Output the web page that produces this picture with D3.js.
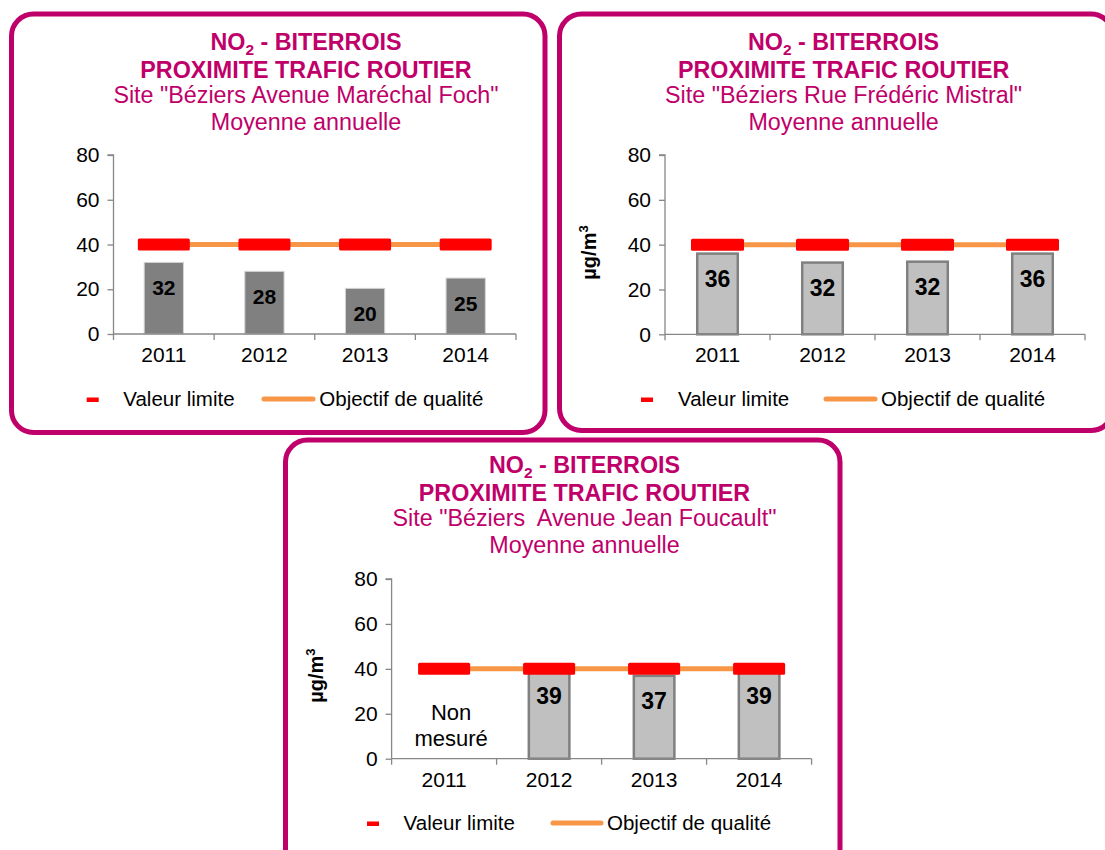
<!DOCTYPE html>
<html><head><meta charset="utf-8">
<script src="https://cdn.jsdelivr.net/npm/d3@7"></script>
<style>
body{margin:0;background:#fff}
text{font-family:"Liberation Sans",Arial,Helvetica,sans-serif}
</style>
</head><body>
<svg id="c" width="1105" height="850"></svg>
<script>
// ---- data ----
const years = ["2011", "2012", "2013", "2014"];
const fochValues = [32, 28, 20.4, 25];
const mistralValues = [36, 32, 32.4, 36];
const foucaultValues = [null, 39, 36.9, 39];
const fochLabels = ["32", "28", "20", "25"];
const mistralLabels = ["36", "32", "32", "36"];
const foucaultLabels = ["", "39", "37", "39"];
const valeurLimite = [40, 40, 40, 40];
const objectifQualite = [40, 40, 40, 40];
const yTicks = [0, 20, 40, 60, 80];
const titleNO = "NO";
const titleSub = "2";
const titleRest = " - BITERROIS";
const titleLine2 = "PROXIMITE TRAFIC ROUTIER";
const siteNames = ['Site "Béziers Avenue Maréchal Foch"', 'Site "Béziers Rue Frédéric Mistral"', 'Site "Béziers  Avenue Jean Foucault"'];
const titleLine4 = "Moyenne annuelle";
const legendNames = ["Valeur limite", "Objectif de qualité"];
const yAxisTitle = "µg/m";
const missingText = ["Non", "mesuré"];

const MAG = "#C0006A";
const svg = d3.select("#c");

const panels = [
  {values: fochValues, labels: fochLabels, site: siteNames[0],
   box: {x: 11.5, y: 14, w: 533.5, h: 418.5},
   plot: {x0: 113.5, x1: 516, y0: 334, y1: 155},
   barFrac: 0.4, redW: 52, fill: "#808080", stroke: "#d4d4d4", sw: 1, labelSize: 21,
   titleX: 306, titleY: 50, yTitle: null,
   legend: {red: 86.7, vText: 123.3, o0: 262, o1: 315, oText: 319.3, y: 406}},
  {values: mistralValues, labels: mistralLabels, site: siteNames[1],
   box: {x: 559.5, y: 14, w: 553.5, h: 416.5},
   plot: {x0: 665, x1: 1085, y0: 334.3, y1: 155},
   barFrac: 0.41, redW: 53, fill: "#C0C0C0", stroke: "#808080", sw: 2.5, labelSize: 23,
   titleX: 843.6, titleY: 50, yTitle: {x: 588.5, y: 252.5},
   legend: {red: 641, vText: 678, o0: 824, o1: 877, oText: 881, y: 406}},
  {values: foucaultValues, labels: foucaultLabels, site: siteNames[2],
   box: {x: 285.5, y: 440, w: 554.5, h: 450},
   plot: {x0: 391.6, x1: 811.6, y0: 758.7, y1: 579},
   barFrac: 0.41, redW: 52, fill: "#C0C0C0", stroke: "#808080", sw: 2.5, labelSize: 23,
   titleX: 584.5, titleY: 473.3, yTitle: {x: 316, y: 675.6},
   legend: {red: 367, vText: 403.6, o0: 551, o1: 603, oText: 607, y: 830},
   missing: true}
];

const TFS = 23.3;

panels.forEach(p => {
  const g = svg.append("g");
  // border
  g.append("rect").attr("x", p.box.x).attr("y", p.box.y).attr("width", p.box.w).attr("height", p.box.h)
    .attr("rx", 22).attr("ry", 22).attr("fill", "none").attr("stroke", MAG).attr("stroke-width", 5);

  // title
  const t = g.append("g").attr("fill", MAG).attr("text-anchor", "middle");
  const l1 = t.append("text").attr("x", p.titleX).attr("y", p.titleY).attr("font-weight", "bold").attr("font-size", TFS);
  l1.append("tspan").text(titleNO);
  l1.append("tspan").attr("font-size", 15.5).attr("dy", 5).text(titleSub);
  l1.append("tspan").attr("dy", -5).text(titleRest);
  t.append("text").attr("x", p.titleX).attr("y", p.titleY + 27.5).attr("font-weight", "bold").attr("font-size", TFS).text(titleLine2);
  t.append("text").attr("x", p.titleX).attr("y", p.titleY + 53).attr("font-size", TFS).style("white-space", "pre").text(p.site);
  t.append("text").attr("x", p.titleX).attr("y", p.titleY + 79.5).attr("font-size", TFS).text(titleLine4);

  // scales
  const x = d3.scaleBand().domain(years).range([p.plot.x0, p.plot.x1]).padding(0);
  const y = d3.scaleLinear().domain([0, 80]).range([p.plot.y0, p.plot.y1]);
  const bw = x.bandwidth();
  const barW = bw * p.barFrac;

  // bars
  const data = years.map((yr, i) => ({yr, v: p.values[i], lab: p.labels[i], vl: valeurLimite[i], oq: objectifQualite[i]}));
  g.append("g").selectAll("rect").data(data.filter(d => d.v != null)).join("rect")
    .attr("x", d => x(d.yr) + (bw - barW) / 2 + p.sw / 2)
    .attr("width", barW - p.sw)
    .attr("y", d => y(d.v))
    .attr("height", d => y(0) - y(d.v))
    .attr("fill", p.fill).attr("stroke", p.stroke).attr("stroke-width", p.sw);

  // axes
  const ya = g.append("g").attr("transform", `translate(${p.plot.x0},0)`)
    .call(d3.axisLeft(y).tickValues(yTicks).tickSize(6).tickPadding(8));
  const xa = g.append("g").attr("transform", `translate(0,${p.plot.y0})`)
    .call(d3.axisBottom(x).tickSize(0).tickPadding(13));
  // category boundary ticks
  const bounds = years.map(yr => x(yr)).concat([p.plot.x1]);
  xa.selectAll("line.bt").data(bounds).join("line").attr("class", "bt")
    .attr("x1", d => d).attr("x2", d => d).attr("y1", 0).attr("y2", 6);
  [ya, xa].forEach(a => {
    a.selectAll("path").attr("stroke", "#878787").attr("stroke-width", 1.3);
    a.selectAll("line").attr("stroke", "#878787").attr("stroke-width", 1.3);
    a.selectAll("text").attr("font-size", 21).attr("fill", "#000")
      .attr("font-family", '"Liberation Sans",Arial,sans-serif');
  });
  ya.select("path").attr("d", `M-6,${p.plot.y1}H0V${p.plot.y0}`);
  xa.select("path").attr("d", `M${p.plot.x0},0H${p.plot.x1}`);

  // objectif de qualité line
  const line = d3.line().x(d => x(d.yr) + bw / 2).y(d => y(d.oq));
  g.append("path").datum(data).attr("d", line).attr("fill", "none")
    .attr("stroke", "#F79646").attr("stroke-width", 5);

  // valeur limite dashes
  g.append("g").selectAll("rect").data(data).join("rect")
    .attr("x", d => x(d.yr) + bw / 2 - p.redW / 2).attr("width", p.redW)
    .attr("y", d => y(d.vl) - 6).attr("height", 12).attr("rx", 1.5)
    .attr("fill", "#FF0000");

  // data labels
  g.append("g").selectAll("text").data(data.filter(d => d.v != null)).join("text")
    .attr("x", d => x(d.yr) + bw / 2)
    .attr("y", d => y(d.v) + 25 + p.labelSize * 0.36)
    .attr("text-anchor", "middle").attr("font-weight", "bold").attr("font-size", p.labelSize)
    .attr("fill", "#000").text(d => d.lab);

  if (p.missing) {
    const mx = x(years[0]) + bw / 2 + 7;
    g.append("text").attr("x", mx).attr("y", y(0) - 39).attr("text-anchor", "middle").attr("font-size", 22).text(missingText[0]);
    g.append("text").attr("x", mx).attr("y", y(0) - 12.5).attr("text-anchor", "middle").attr("font-size", 22).text(missingText[1]);
  }

  // y-axis title
  if (p.yTitle) {
    const yt = g.append("text").attr("transform", `translate(${p.yTitle.x + 7},${p.yTitle.y}) rotate(-90)`)
      .attr("text-anchor", "middle").attr("font-weight", "bold").attr("font-size", 20);
    yt.append("tspan").text(yAxisTitle);
    yt.append("tspan").attr("font-size", 13).attr("dy", -8).text("3");
  }

  // legend
  const L = p.legend;
  g.append("rect").attr("x", L.red).attr("y", L.y - 8.5).attr("width", 12).attr("height", 4.5).attr("fill", "#FF0000");
  g.append("text").attr("x", L.vText).attr("y", L.y).attr("font-size", 20.5).text(legendNames[0]);
  g.append("line").attr("x1", L.o0 + 2).attr("x2", L.o1 - 2).attr("y1", L.y - 7).attr("y2", L.y - 7)
    .attr("stroke", "#F79646").attr("stroke-width", 5).attr("stroke-linecap", "round");
  g.append("text").attr("x", L.oText).attr("y", L.y).attr("font-size", 20.5).text(legendNames[1]);
});
</script>
</body></html>
